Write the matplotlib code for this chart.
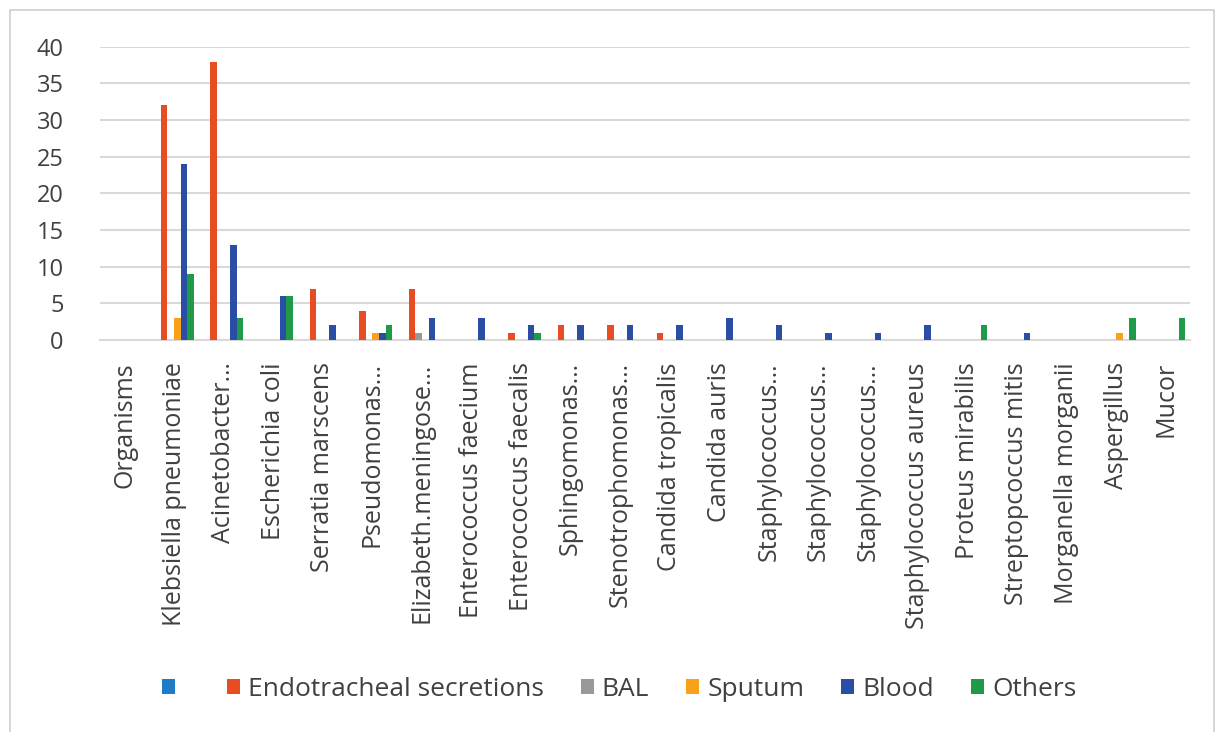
import numpy as np
import matplotlib.pyplot as plt
from matplotlib.patches import Rectangle

# ==========================================================
# DADOS
# ==========================================================

organisms = [
    "Organisms", "Klebsiella pneumoniae", "Acinetobacter…", "Escherichia coli",
    "Serratia marscens", "Pseudomonas…", "Elizabeth.meningose…",
    "Enterococcus faecium", "Enterococcus faecalis", "Sphingomonas…",
    "Stenotrophomonas…", "Candida tropicalis", "Candida auris",
    "Staphylococcus…", "Staphylococcus…", "Staphylococcus…",
    "Staphylococcus aureus", "Proteus mirabilis", "Streptopcoccus mitis",
    "Morganella morganii", "Aspergillus", "Mucor",
]

series_names = ["", "Endotracheal secretions", "BAL", "Sputum", "Blood", "Others"]

blank = [0] * 22
endotracheal = [0, 32, 38, 0, 7, 4, 7, 0, 1, 2, 2, 1, 0, 0, 0, 0, 0, 0, 0, 0, 0, 0]
bal = [0, 0, 0, 0, 0, 0, 1, 0, 0, 0, 0, 0, 0, 0, 0, 0, 0, 0, 0, 0, 0, 0]
sputum = [0, 3, 0, 0, 0, 1, 0, 0, 0, 0, 0, 0, 0, 0, 0, 0, 0, 0, 0, 0, 1, 0]
blood = [0, 24, 13, 6, 2, 1, 3, 3, 2, 2, 2, 2, 3, 2, 1, 1, 2, 0, 1, 0, 0, 0]
others = [0, 9, 3, 6, 0, 2, 0, 0, 1, 0, 0, 0, 0, 0, 0, 0, 0, 2, 0, 0, 3, 3]

cores = ["#1F7BC5", "#E84C22", "#999999", "#F9A11B", "#2A4EA3", "#1E9A48"]

# ==========================================================
# GRÁFICO
# ==========================================================

plt.rcParams["font.family"] = ["Open Sans", "DejaVu Sans"]

fig = plt.figure(figsize=(12.16, 7.32), dpi=100)
ax = fig.add_axes([0.082, 0.5355, 0.897, 0.4005])

fig.patches.append(Rectangle((0.008, -0.01), 0.99, 0.996, transform=fig.transFigure,
                             fill=False, edgecolor="#d0d0d0", linewidth=1.2))

x = np.arange(len(organisms))
largura = 0.133
dados = [blank, endotracheal, bal, sputum, blood, others]

for i, (nome, valores, cor) in enumerate(zip(series_names, dados, cores)):
    ax.bar(x + (i - 2.5) * largura, valores, width=largura, color=cor,
           label=nome if nome else " ", zorder=3)

ax.set_xlim(-0.5, len(organisms) - 0.5)
ax.set_ylim(0, 40)
ax.set_yticks(range(0, 41, 5))
ax.set_xticks(x)
ax.set_xticklabels(organisms, rotation=90, fontsize=18, color="#404040")
ax.tick_params(axis="y", labelsize=17, colors="#404040", length=0, pad=26)
ax.tick_params(axis="x", length=0, pad=16)

ax.grid(axis="y", color="#d9d9d9", linewidth=1.5, zorder=0)
for lado in ["top", "right", "left"]:
    ax.spines[lado].set_visible(False)
ax.spines["bottom"].set_color("#d9d9d9")
ax.spines["bottom"].set_linewidth(1.5)

fig.legend(loc="center", bbox_to_anchor=(0.509, 0.058), ncol=6, frameon=False,
           fontsize=19, handlelength=0.5, handleheight=0.5, handletextpad=0.3,
           columnspacing=1.4, labelcolor="#404040")

plt.savefig("out.png", dpi=100)
